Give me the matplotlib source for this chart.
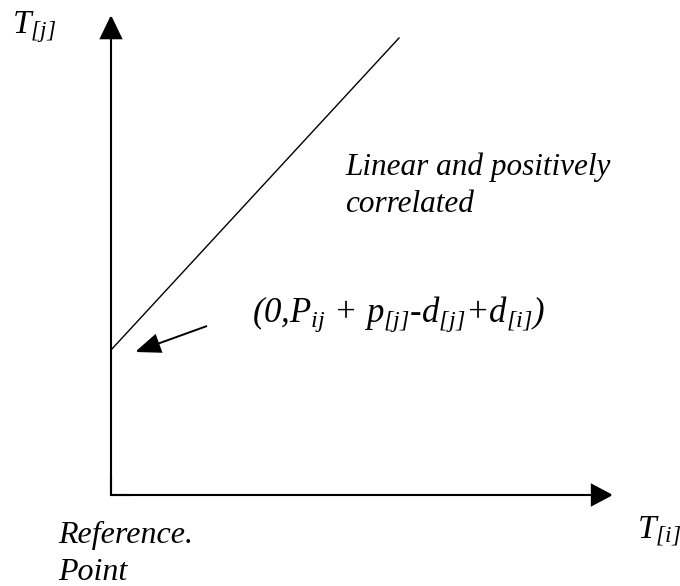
import matplotlib
matplotlib.use("Agg")
import matplotlib.pyplot as plt
from matplotlib.patches import FancyArrowPatch

plt.rcParams['mathtext.fontset'] = 'custom'
plt.rcParams['mathtext.rm'] = 'Liberation Serif:italic'
plt.rcParams['mathtext.it'] = 'Liberation Serif:italic'
plt.rcParams['mathtext.default'] = 'it'
plt.rcParams['font.family'] = ['Liberation Serif', 'DejaVu Serif']

# Data (diagram units, origin = reference point)
x_axis_end = 502
y_axis_end = 480
line_x = [0, 288]
line_y = [145, 457]
pointer_from = (96, 169)
pointer_to = (24, 143)

y_label = r'$T_{[j]}$'
x_label = r'$T_{[i]}$'
corr_text = ['Linear and positively', 'correlated']
point_text = '(0,$P_{ij}$ + $p_{[j]}$-$d_{[j]}$+$d_{[i]}$)'
origin_text = ['Reference.', 'Point']

fig = plt.figure(figsize=(6.8, 5.86), dpi=100)
ax = fig.add_axes([0, 0, 1, 1])
ax.set_xlim(-111, 569)
ax.set_ylim(-91, 495)
ax.axis('off')

def arrow(p0, p1, lw, ms=20, hl=0.75, hw=0.36):
    a = FancyArrowPatch(p0, p1, arrowstyle=f'-|>,head_length={hl},head_width={hw}',
                        mutation_scale=ms, lw=lw, color='black',
                        shrinkA=0, shrinkB=0, joinstyle='miter', capstyle='butt')
    ax.add_patch(a)

arrow((0, 0), (0, y_axis_end), 1.5, hl=0.75, hw=0.36)
arrow((0, 0), (x_axis_end, 0), 1.5, hl=0.68, hw=0.36)
ax.plot([0, 0, 20], [20, 0, 0], color='black', lw=1.5,
        solid_joinstyle='miter', solid_capstyle='butt')
ax.plot(line_x, line_y, color='black', lw=1.0)
arrow(pointer_from, pointer_to, 1.4, hl=0.79, hw=0.31)

ax.text(-99, 462, y_label, fontsize=24, va='baseline', ha='left')
ax.text(526, -44, x_label, fontsize=24, va='baseline', ha='left')
ax.text(234, 320, corr_text[0], fontsize=22.5, style='italic', va='baseline')
ax.text(234, 283, corr_text[1], fontsize=22.5, style='italic', va='baseline')
ax.text(141, 173, point_text, fontsize=25, style='italic', va='baseline')
ax.text(-53, -48, origin_text[0], fontsize=23, style='italic', va='baseline')
ax.text(-53, -85, origin_text[1], fontsize=23, style='italic', va='baseline')

fig.savefig('out.png', dpi=100, facecolor='white')
